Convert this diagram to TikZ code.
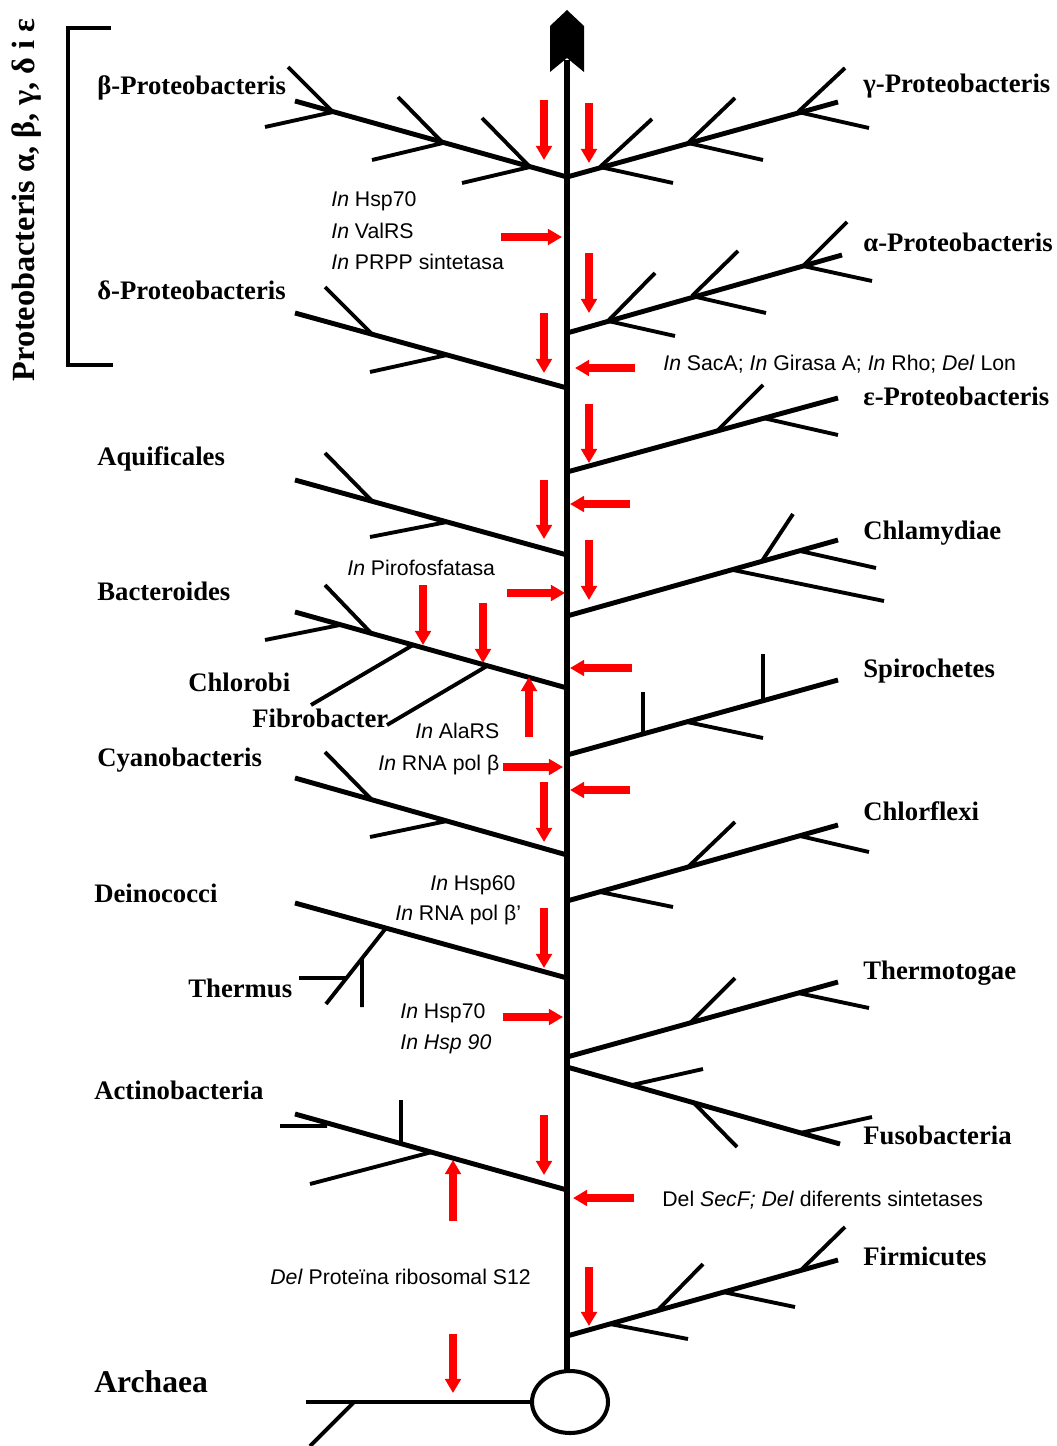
\documentclass[tikz,border=0pt]{standalone}
\usepackage{fontspec}
\setmainfont{Liberation Serif}
\setsansfont{Liberation Sans}
\usepackage{xcolor}
\usepackage{tikz}
\usetikzlibrary{arrows.meta}

\begin{document}
\begin{tikzpicture}[
    x=0.02cm, y=-0.02cm,
    taxon/.style={anchor=base west, inner sep=0pt, font=\fontsize{15.2}{18}\selectfont\bfseries},
    note/.style={anchor=base west, inner sep=0pt, font=\sffamily\fontsize{12.1}{14}\selectfont},
    trunk/.style={line width=3.8pt},
    branch/.style={line width=2.8pt},
    twig/.style={line width=2.2pt},
    bracket/.style={line width=2pt},
    redarrow/.style={draw=red, line width=4.4pt, -{Triangle[length=8pt, width=8.8pt]}}
  ]
    \useasboundingbox (0,0) rectangle (1056,1446);

    % trunk with its head and the root
    \draw[trunk] (567,1371) -- (567,60);
    \fill (567,10) -- (584,26) -- (584,72) -- (567,58) -- (550,72) -- (550,26) -- cycle;
    \draw[line width=2.3pt] (570,1402) ellipse [x radius=0.76cm, y radius=0.62cm];

    % archaea
    \draw[branch] (532,1402) -- (306,1402);
    \draw[twig] (354,1402) -- (310,1446);

    % beta / gamma
    \draw[branch] (567,177) -- (295,101);
    \draw[twig] (333,112) -- (288,67) (333,112) -- (265,127);
    \draw[twig] (443,143) -- (398,97) (443,143) -- (372,160);
    \draw[twig] (530,167) -- (482,118) (530,167) -- (462,183);
    \draw[branch] (567,177) -- (838,102);
    \draw[twig] (600,167) -- (652,119) (600,167) -- (673,183);
    \draw[twig] (688,143) -- (735,98) (688,143) -- (763,160);
    \draw[twig] (798,112) -- (845,68) (798,112) -- (869,128);

    % alpha, delta, epsilon
    \draw[branch] (567,333) -- (842,255);
    \draw[twig] (608,321) -- (655,273) (608,321) -- (675,336);
    \draw[twig] (692,296) -- (738,251) (692,296) -- (766,313);
    \draw[twig] (803,266) -- (847,222) (803,266) -- (872,281);
    \draw[branch] (567,388) -- (295,313);
    \draw[twig] (372,334) -- (325,287) (447,355) -- (370,372);
    \draw[branch] (567,472) -- (838,398);
    \draw[twig] (717,431) -- (763,385) (763,418) -- (838,435);

    % aquificales, chlamydiae
    \draw[branch] (567,555) -- (295,480);
    \draw[twig] (372,501) -- (325,453) (447,522) -- (370,537);
    \draw[branch] (567,616) -- (838,540);
    \draw[twig] (733,570) -- (884,601) (762,561) -- (793,514) (800,551) -- (876,568);

    % bacteroides, chlorobi, fibrobacter
    \draw[branch] (567,688) -- (295,612);
    \draw[twig] (340,625) -- (265,640) (372,634) -- (325,585);
    \draw[twig] (413,645) -- (311,705) (487,666) -- (387,725);

    % spirochetes, cyanobacteris, chlorflexi
    \draw[branch] (567,755) -- (838,680);
    \draw[twig] (643,734) -- (643,692) (687,722) -- (763,738) (763,701) -- (763,654);
    \draw[branch] (567,855) -- (295,778);
    \draw[twig] (372,800) -- (325,752) (447,821) -- (370,837);
    \draw[branch] (567,901) -- (838,825);
    \draw[twig] (600,892) -- (673,907) (688,867) -- (735,822) (800,836) -- (869,852);

    % deinococci, thermus
    \draw[branch] (567,978) -- (295,903);
    \draw[twig] (386,928) -- (326,1004) (362,958) -- (362,1007) (299,978) -- (347,978);

    % thermotogae, fusobacteria
    \draw[branch] (567,1057) -- (838,982);
    \draw[twig] (690,1023) -- (735,978) (798,993) -- (869,1008);
    \draw[branch] (567,1067) -- (840,1144);
    \draw[twig] (632,1085) -- (703,1069) (693,1102) -- (737,1147) (800,1133) -- (872,1117);

    % actinobacteria, firmicutes
    \draw[branch] (567,1190) -- (295,1114);
    \draw[twig] (432,1152) -- (310,1184) (401,1144) -- (401,1100) (327,1126) -- (280,1126);
    \draw[branch] (567,1336) -- (838,1260);
    \draw[twig] (610,1324) -- (688,1339) (657,1311) -- (703,1264);
    \draw[twig] (723,1292) -- (795,1307) (800,1271) -- (845,1227);

    % proteobacteria bracket
    \draw[bracket] (111,28) -- (68,28) -- (68,365) -- (113,365);
    \node[taxon, anchor=center, rotate=90, font=\fontsize{18.4}{20}\selectfont\bfseries] (proteo) at (27,200) {Proteobacteris α, β, γ, δ i ε};

    % taxa
    \node[taxon] (beta) at (97,95) {β-Proteobacteris};
    \node[taxon] (gamma) at (863,93) {γ-Proteobacteris};
    \node[taxon] (delta) at (97,299) {δ-Proteobacteris};
    \node[taxon] (alpha) at (863,252) {α-Proteobacteris};
    \node[taxon] (epsilon) at (863,405) {ε-Proteobacteris};
    \node[taxon] (aquif) at (97,465) {Aquificales};
    \node[taxon] (chlam) at (863,539) {Chlamydiae};
    \node[taxon] (bacter) at (97,600) {Bacteroides};
    \node[taxon] (chlorobi) at (188,691) {Chlorobi};
    \node[taxon] (fibro) at (252,727) {Fibrobacter};
    \node[taxon] (spiro) at (863,677) {Spirochetes};
    \node[taxon] (cyano) at (97,766) {Cyanobacteris};
    \node[taxon] (chlorfl) at (863,820) {Chlorflexi};
    \node[taxon] (deino) at (94,902) {Deinococci};
    \node[taxon] (thermus) at (188,997) {Thermus};
    \node[taxon] (thermo) at (863,979) {Thermotogae};
    \node[taxon] (actino) at (94,1099) {Actinobacteria};
    \node[taxon] (fuso) at (863,1144) {Fusobacteria};
    \node[taxon] (firmi) at (863,1265) {Firmicutes};
    \node[taxon, font=\fontsize{18}{20}\selectfont\bfseries] (archaea) at (94,1392) {Archaea};

    % events
    \node[note] (hspA) at (331,207) {\textit{In} Hsp70};
    \node[note] (valrs) at (331,238) {\textit{In} ValRS};
    \node[note] (prpp) at (331,269) {\textit{In} PRPP sintetasa};
    \node[note] (saca) at (663,370) {\textit{In} SacA; \textit{In} Girasa A; \textit{In} Rho; \textit{Del} Lon};
    \node[note] (pirofos) at (347,575) {\textit{In} Pirofosfatasa};
    \node[note] (alars) at (415,738) {\textit{In} AlaRS};
    \node[note] (rnapol) at (378,770) {\textit{In} RNA pol β};
    \node[note] (hspsix) at (430,890) {\textit{In} Hsp60};
    \node[note] (rnapolb) at (395,920) {\textit{In} RNA pol β’};
    \node[note] (hspB) at (400,1018) {\textit{In} Hsp70};
    \node[note] (hspnine) at (400,1049) {\textit{In Hsp 90}};
    \node[note] (secf) at (662,1206) {Del \textit{SecF; Del} diferents sintetases};
    \node[note] (sdotze) at (270,1284) {\textit{Del} Proteïna ribosomal S12};

    % red arrows
    \foreach \x/\ya/\yb in {544/100/160, 589/103/163, 589/253/313, 544/313/373, 589/404/463,
        544/480/539, 589/540/600, 423/585/645, 483/603/663, 544/782/842, 544/908/968,
        544/1115/1175, 589/1267/1326, 453/1334/1393, 529/737/677, 453/1221/1160}
      \draw[redarrow] (\x,\ya) -- (\x,\yb);
    \foreach \y/\xa/\xb in {237/501/562, 593/507/565, 767/503/563, 1017/503/563,
        368/635/575, 504/630/570, 668/632/570, 790/630/570, 1198/634/573}
      \draw[redarrow] (\xa,\y) -- (\xb,\y);
  \end{tikzpicture}
\end{document}
